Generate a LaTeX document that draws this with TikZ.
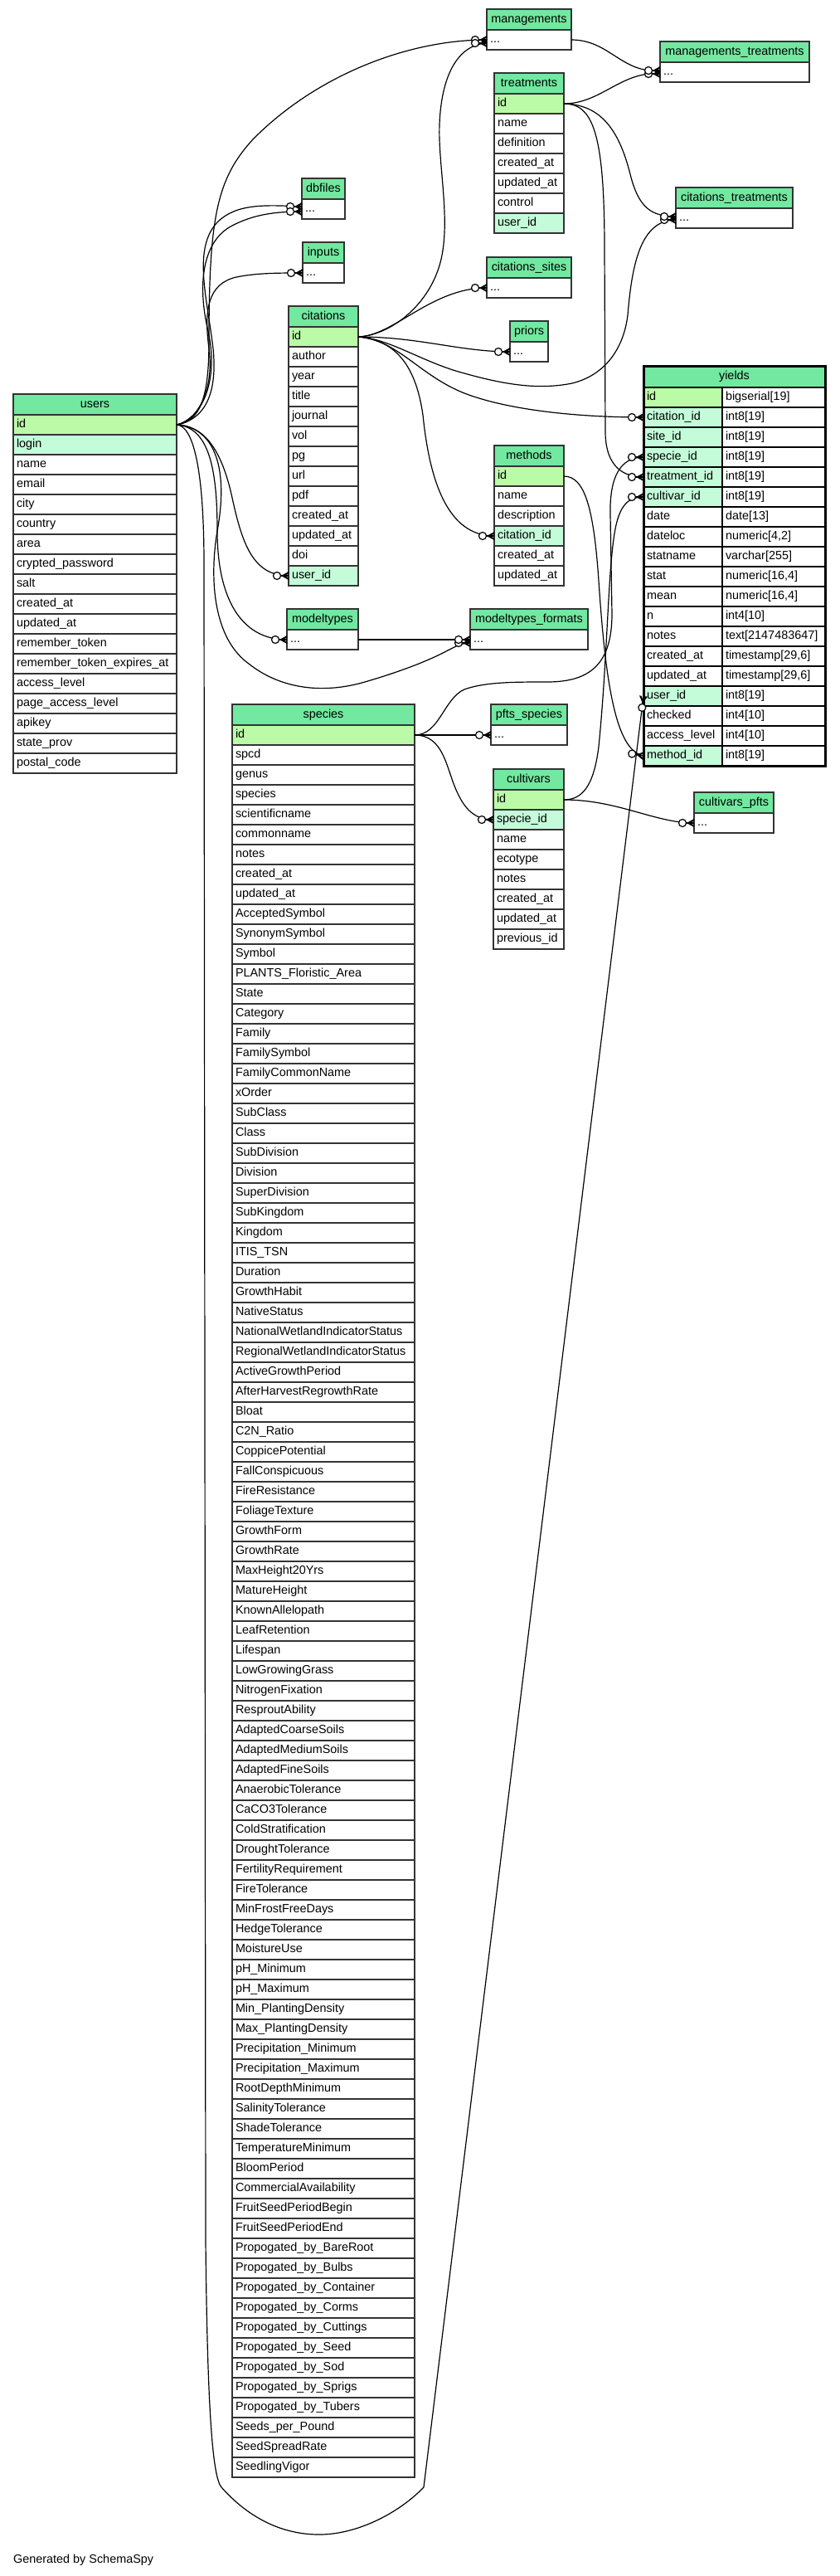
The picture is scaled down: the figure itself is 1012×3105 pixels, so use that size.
\documentclass[tikz,border=0pt]{standalone}
\usepackage{fontspec}
\setmainfont{Liberation Sans}
\definecolor{hdrc}{RGB}{114,232,160}
\definecolor{pkc}{RGB}{187,251,168}
\definecolor{fkc}{RGB}{196,252,218}
\definecolor{brd}{RGB}{51,51,51}
\newcommand\tdots{...}
\tikzset{
  tfont/.style={font=\fontsize{14.4pt}{16pt}\selectfont},
  hdr/.style={tfont, draw=brd, line width=1.3pt, fill=hdrc, minimum height=25pt, inner xsep=4pt, inner ysep=0pt, outer sep=0pt, align=center, text height=10.5pt, text depth=3pt},
  rowbox/.style={tfont, draw=brd, line width=1.3pt, minimum height=24pt, inner xsep=4pt, inner ysep=0pt, outer sep=0pt, align=left, text height=10.5pt, text depth=3pt},
  edge/.style={draw=black, line width=1.2pt},
  crow/.pic={
    \fill (-9,0) -- (0,5) -- (0,2.5) -- (-5,0) -- (0,-2.5) -- (0,-5) -- cycle;
    \draw[line width=1.2pt] (-9,0) -- (0,0);
    \draw[line width=1.2pt, fill=white] (-14,0) circle[radius=4.5];
  }
}
\newcommand\mktable[6]{%
  \pgfmathsetmacro\tw{#4-8}%
  \node[hdr, text width=\tw pt, anchor=north west] (#1) at (#2,#3) {#5};
  \foreach \rtext/\rcol [count=\i] in {#6} {
    \node[rowbox, fill=\rcol, text width=\tw pt, anchor=north west] (#1-\i) at ({#2},{#3+25+(\i-1)*24}) {\rtext};
  }
}
\begin{document}
\begin{tikzpicture}[x=1pt,y=-1pt]
\fill[white] (0,0) rectangle (1012,3105);
\useasboundingbox (0,0) rectangle (1012,3105);

% ---------- tables ----------
\mktable{managements}{587}{11}{102}{managements}{\tdots/white}
\mktable{mt}{796}{50}{180}{managements\_treatments}{\tdots/white}
\mktable{treatments}{596}{88}{84}{treatments}{id/pkc,name/white,definition/white,created\_at/white,updated\_at/white,control/white,user\_id/fkc}
\mktable{dbfiles}{364}{215}{52}{dbfiles}{\tdots/white}
\mktable{inputs}{365}{292}{50}{inputs}{\tdots/white}
\mktable{ct}{815}{226}{141}{citations\_treatments}{\tdots/white}
\mktable{cs}{587}{310}{102}{citations\_sites}{\tdots/white}
\mktable{citations}{348}{369}{84}{citations}{id/pkc,author/white,year/white,title/white,journal/white,vol/white,pg/white,url/white,pdf/white,created\_at/white,updated\_at/white,doi/white,user\_id/fkc}
\mktable{priors}{615}{387}{46}{priors}{\tdots/white}
\mktable{methods}{596}{537}{84}{methods}{id/pkc,name/white,description/white,citation\_id/fkc,created\_at/white,updated\_at/white}
\mktable{users}{16}{475}{197}{users}{id/pkc,login/fkc,name/white,email/white,city/white,country/white,area/white,crypted\_password/white,salt/white,created\_at/white,updated\_at/white,remember\_token/white,remember\_token\_expires\_at/white,access\_level/white,page\_access\_level/white,apikey/white,state\_prov/white,postal\_code/white}
\mktable{modeltypes}{346}{734}{86}{modeltypes}{\tdots/white}
\mktable{mf}{567}{734}{142}{modeltypes\_formats}{\tdots/white}
\mktable{ps}{592}{849}{92}{pfts\_species}{\tdots/white}
\mktable{cultivars}{595}{927}{85}{cultivars}{id/pkc,specie\_id/fkc,name/white,ecotype/white,notes/white,created\_at/white,updated\_at/white,previous\_id/white}
\mktable{cp}{837}{955}{96}{cultivars\_pfts}{\tdots/white}
\mktable{species}{280}{849}{220}{species}{id/pkc,spcd/white,genus/white,species/white,scientificname/white,commonname/white,notes/white,created\_at/white,updated\_at/white,AcceptedSymbol/white,SynonymSymbol/white,Symbol/white,PLANTS\_Floristic\_Area/white,State/white,Category/white,Family/white,FamilySymbol/white,FamilyCommonName/white,xOrder/white,SubClass/white,Class/white,SubDivision/white,Division/white,SuperDivision/white,SubKingdom/white,Kingdom/white,ITIS\_TSN/white,Duration/white,GrowthHabit/white,NativeStatus/white,NationalWetlandIndicatorStatus/white,RegionalWetlandIndicatorStatus/white,ActiveGrowthPeriod/white,AfterHarvestRegrowthRate/white,Bloat/white,C2N\_Ratio/white,CoppicePotential/white,FallConspicuous/white,FireResistance/white,FoliageTexture/white,GrowthForm/white,GrowthRate/white,MaxHeight20Yrs/white,MatureHeight/white,KnownAllelopath/white,LeafRetention/white,Lifespan/white,LowGrowingGrass/white,NitrogenFixation/white,ResproutAbility/white,AdaptedCoarseSoils/white,AdaptedMediumSoils/white,AdaptedFineSoils/white,AnaerobicTolerance/white,CaCO3Tolerance/white,ColdStratification/white,DroughtTolerance/white,FertilityRequirement/white,FireTolerance/white,MinFrostFreeDays/white,HedgeTolerance/white,MoistureUse/white,pH\_Minimum/white,pH\_Maximum/white,Min\_PlantingDensity/white,Max\_PlantingDensity/white,Precipitation\_Minimum/white,Precipitation\_Maximum/white,RootDepthMinimum/white,SalinityTolerance/white,ShadeTolerance/white,TemperatureMinimum/white,BloomPeriod/white,CommercialAvailability/white,FruitSeedPeriodBegin/white,FruitSeedPeriodEnd/white,Propogated\_by\_BareRoot/white,Propogated\_by\_Bulbs/white,Propogated\_by\_Container/white,Propogated\_by\_Corms/white,Propogated\_by\_Cuttings/white,Propogated\_by\_Seed/white,Propogated\_by\_Sod/white,Propogated\_by\_Sprigs/white,Propogated\_by\_Tubers/white,Seeds\_per\_Pound/white,SeedSpreadRate/white,SeedlingVigor/white}

% yields (focus table)
\node[hdr, minimum height=26pt, text width=211pt, anchor=north west] (yields) at (776,441) {yields};
\foreach \na/\ty/\rcol [count=\i] in {id/bigserial[19]/pkc, citation\_id/int8[19]/fkc, site\_id/int8[19]/fkc, specie\_id/int8[19]/fkc, treatment\_id/int8[19]/fkc, cultivar\_id/int8[19]/fkc, date/date[13]/white, dateloc/{numeric[4,2]}/white, statname/varchar[255]/white, stat/{numeric[16,4]}/white, mean/{numeric[16,4]}/white, n/int4[10]/white, notes/text[2147483647]/white, created\_at/{timestamp[29,6]}/white, updated\_at/{timestamp[29,6]}/white, user\_id/int8[19]/fkc, checked/int4[10]/white, access\_level/int4[10]/white, method\_id/int8[19]/fkc} {
  \node[rowbox, draw=black, fill=\rcol, text width=87pt, anchor=north west] (yields-\i) at ({776},{467+(\i-1)*24}) {\na};
  \node[rowbox, draw=black, fill=white, text width=116pt, anchor=north west] (yt-\i) at ({871},{467+(\i-1)*24}) {\ty};
}
\draw[line width=3pt] (yields.north west) rectangle (yt-19.south east);

% ---------- connectors ----------
% users.id
\draw[edge] (users-1.east) .. controls (245,508) and (252,470) .. (252,410) .. controls (252,260) and (262,215) .. (305,168) .. controls (380,92) and (490,48) .. (managements-1.west);
\draw[edge] (users-1.east) .. controls (250,505) and (262,470) .. (257,420) .. controls (250,360) and (232,300) .. (262,268) .. controls (285,245) and (320,247) .. ([yshift=3pt]dbfiles-1.west);
\draw[edge] (users-1.east) .. controls (245,505) and (265,455) .. (250,395) .. controls (238,340) and (245,290) .. (280,272) .. controls (305,259) and (330,255) .. ([yshift=-3pt]dbfiles-1.west);
\draw[edge] (users-1.east) .. controls (242,505) and (258,465) .. (252,420) .. controls (246,375) and (250,342) .. (285,334) .. controls (310,329) and (335,329) .. (inputs-1.west);
\draw[edge] (users-1.east) .. controls (248,513) and (268,545) .. (280,600) .. controls (292,655) and (305,694) .. (citations-13.west);
\draw[edge] (users-1.east) .. controls (252,515) and (262,565) .. (262,640) .. controls (262,720) and (290,771) .. (modeltypes-1.west);
\draw[edge] (users-1.east) .. controls (262,515) and (275,570) .. (262,640) .. controls (252,700) and (258,770) .. (300,800) .. controls (335,828) and (385,838) .. (440,822) .. controls (495,806) and (525,792) .. (540,784) .. controls (550,779) and (556,775) .. ([yshift=-4pt]mf-1.west);
\draw[edge] (users-1.east) .. controls (232,513) and (246,560) .. (246,680) -- (248,2700) .. controls (250,2900) and (256,2985) .. (267,2998) .. controls (300,3035) and (340,3055) .. (385,3055) .. controls (430,3055) and (480,3030) .. (511,2998) -- (yields-16.west);
% modeltypes
\draw[edge] (modeltypes-1.east) -- (mf-1.west);
% citations.id
\draw[edge] (citations-1.east) .. controls (470,404) and (515,370) .. (530,320) .. controls (545,270) and (528,200) .. (530,150) .. controls (532,95) and (550,54) .. ([yshift=-4pt]managements-1.west);
\draw[edge] (citations-1.east) .. controls (475,405) and (520,347) .. (cs-1.west);
\draw[edge] (citations-1.east) .. controls (505,406) and (555,424) .. (priors-1.west);
\draw[edge] (citations-1.east) .. controls (480,410) and (505,452) .. (560,474) .. controls (615,495) and (700,503) .. (yields-2.west);
\draw[edge] (citations-1.east) .. controls (470,408) and (510,437) .. (560,450) .. controls (610,464) and (650,470) .. (690,462) .. controls (730,452) and (752,420) .. (757,380) .. controls (762,320) and (772,265) .. ([yshift=-2pt]ct-1.west);
\draw[edge] (citations-1.east) .. controls (480,410) and (502,445) .. (510,500) .. controls (518,580) and (540,646) .. (methods-4.west);
% treatments.id
\draw[edge] (treatments-1.east) .. controls (725,125) and (750,85) .. ([yshift=-2pt]mt-1.west);
\draw[edge] (treatments-1.east) .. controls (720,126) and (745,150) .. (760,210) .. controls (770,250) and (785,261) .. ([yshift=2pt]ct-1.west);
\draw[edge] (treatments-1.east) .. controls (715,125) and (729,160) .. (729,300) -- (730,520) .. controls (730,555) and (745,575) .. (yields-5.west);
% managements
\draw[edge] (managements-1.east) .. controls (735,48) and (750,89) .. ([yshift=2pt]mt-1.west);
% species.id
\draw[edge] (species-1.east) -- (ps-1.west);
\draw[edge] (species-1.east) .. controls (535,886) and (538,925) .. (550,952) .. controls (560,975) and (572,988) .. (cultivars-2.west);
\draw[edge] (species-1.east) .. controls (530,886) and (535,842) .. (560,831) .. controls (585,822) and (620,822) .. (660,822) .. controls (712,822) and (738,800) .. (738,740) -- (736,620) .. controls (735,575) and (748,551) .. (yields-4.west);
% cultivars.id
\draw[edge] (cultivars-1.east) .. controls (702,964) and (716,948) .. (722,900) .. controls (732,800) and (733,700) .. (740,650) .. controls (745,612) and (755,599) .. (yields-6.west);
\draw[edge] (cultivars-1.east) .. controls (745,964) and (790,992) .. (cp-1.west);
% methods.id
\draw[edge] (methods-1.east) .. controls (705,574) and (716,612) .. (722,700) .. controls (730,820) and (742,905) .. (yields-19.west);

% ---------- markers ----------
\pic at (managements-1.west) {crow};
\pic at ([yshift=-4pt]managements-1.west) {crow};
\pic at ([yshift=3pt]dbfiles-1.west) {crow};
\pic at ([yshift=-3pt]dbfiles-1.west) {crow};
\pic at (inputs-1.west) {crow};
\pic at (citations-13.west) {crow};
\pic at (modeltypes-1.west) {crow};
\pic at ([yshift=-4pt]mf-1.west) {crow};
\pic at (mf-1.west) {crow};
\pic[rotate=83] at (yields-16.west) {crow};
\pic at (cs-1.west) {crow};
\pic at (priors-1.west) {crow};
\pic at (yields-2.west) {crow};
\pic at ([yshift=-2pt]ct-1.west) {crow};
\pic at ([yshift=2pt]ct-1.west) {crow};
\pic at (methods-4.west) {crow};
\pic at ([yshift=-2pt]mt-1.west) {crow};
\pic at ([yshift=2pt]mt-1.west) {crow};
\pic at (yields-5.west) {crow};
\pic at (ps-1.west) {crow};
\pic at (cultivars-2.west) {crow};
\pic at (yields-4.west) {crow};
\pic at (yields-6.west) {crow};
\pic at (cp-1.west) {crow};
\pic[rotate=-10] at (yields-19.west) {crow};

\node[anchor=west, tfont, inner sep=0pt] (gen) at (16,3086) {Generated by SchemaSpy};
\end{tikzpicture}
\end{document}
